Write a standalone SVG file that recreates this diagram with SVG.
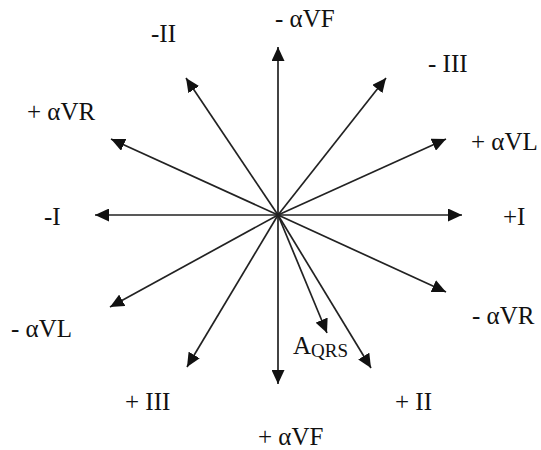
<svg xmlns="http://www.w3.org/2000/svg" width="541" height="450" viewBox="0 0 541 450">
  <style>
    .lbl { font-family: "Liberation Serif", "Times New Roman", serif; font-size: 25px; fill: #111; }
    .sub { font-size: 19px; }
    .ax { stroke: #222; stroke-width: 1.7; fill: none; marker-end: url(#ah); }
  </style>
  <defs>
    <marker id="ah" markerUnits="userSpaceOnUse" markerWidth="15" markerHeight="13" refX="14" refY="6.5" orient="auto">
      <path d="M0,0 L14,6.5 L0,13 Z" fill="#111"/>
    </marker>
  </defs>
  <rect width="541" height="450" fill="#fff"/>
  <g id="connectors">
    <line class="ax" x1="278" y1="215" x2="278" y2="47"/>
    <line class="ax" x1="278" y1="215" x2="278" y2="384"/>
    <line class="ax" x1="278" y1="215" x2="95" y2="215"/>
    <line class="ax" x1="278" y1="215" x2="462" y2="215"/>
    <line class="ax" x1="278" y1="215" x2="186" y2="78"/>
    <line class="ax" x1="278" y1="215" x2="386" y2="78"/>
    <line class="ax" x1="278" y1="215" x2="111" y2="139"/>
    <line class="ax" x1="278" y1="215" x2="446" y2="139"/>
    <line class="ax" x1="278" y1="215" x2="110" y2="307"/>
    <line class="ax" x1="278" y1="215" x2="446" y2="292"/>
    <line class="ax" x1="278" y1="215" x2="187" y2="367"/>
    <line class="ax" x1="278" y1="215" x2="371" y2="368"/>
    <line class="ax" x1="278" y1="215" x2="327" y2="333"/>
  </g>
  <g id="neg-aVF"><text class="lbl" x="275" y="27">- αVF</text></g>
  <g id="neg-II"><text class="lbl" x="151" y="42">-II</text></g>
  <g id="neg-III"><text class="lbl" x="428" y="72">- III</text></g>
  <g id="pos-aVR"><text class="lbl" x="27" y="120">+ αVR</text></g>
  <g id="pos-aVL"><text class="lbl" x="471" y="150">+ αVL</text></g>
  <g id="neg-I"><text class="lbl" x="44" y="225">-I</text></g>
  <g id="pos-I"><text class="lbl" x="503" y="225">+I</text></g>
  <g id="neg-aVL"><text class="lbl" x="11" y="337">- αVL</text></g>
  <g id="neg-aVR"><text class="lbl" x="472" y="324">- αVR</text></g>
  <g id="pos-III"><text class="lbl" x="125" y="410">+ III</text></g>
  <g id="pos-II"><text class="lbl" x="395" y="410">+ II</text></g>
  <g id="pos-aVF"><text class="lbl" x="258" y="445">+ αVF</text></g>
  <g id="AQRS"><text class="lbl" x="293" y="354">A<tspan class="sub" dy="3">QRS</tspan></text></g>
</svg>
